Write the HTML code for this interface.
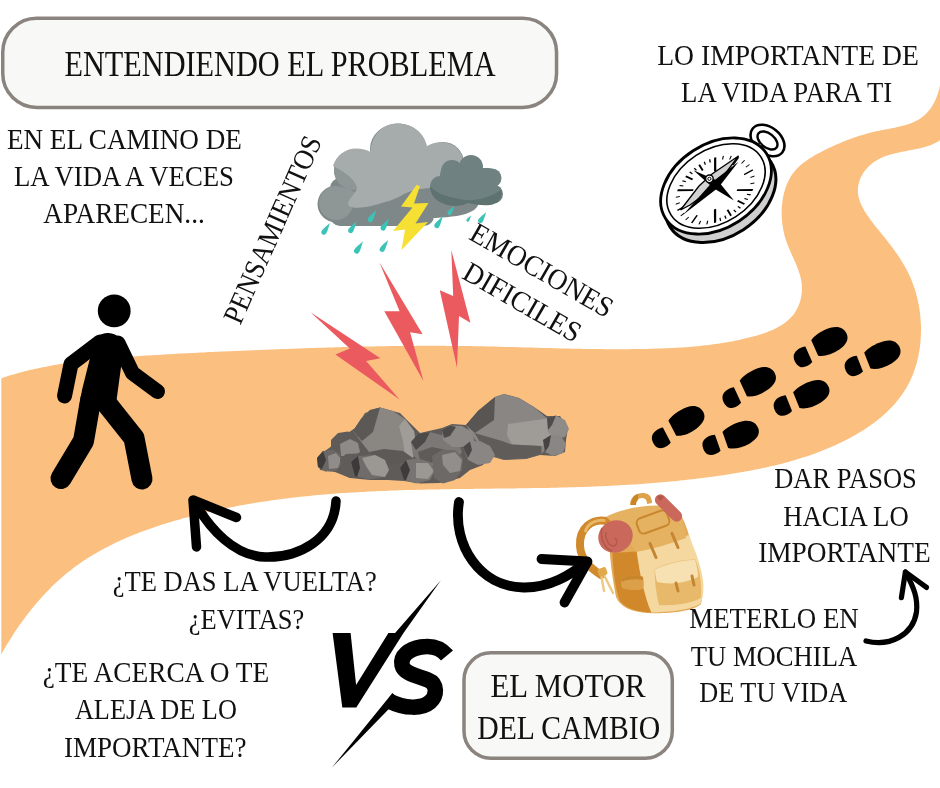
<!DOCTYPE html>
<html><head><meta charset="utf-8"><style>
html,body{margin:0;padding:0;background:#fff;}
svg{display:block;will-change:transform;}
text{font-family:"Liberation Serif",serif;fill:#111;}
</style></head><body>
<svg width="940" height="788" viewBox="0 0 940 788">
<rect width="940" height="788" fill="#fff"/>
<!-- road -->
<path id="road" d="M-4.9,380.4 L-2.1,379.4 L0.8,378.4 L3.6,377.4 L6.5,376.5 L9.4,375.6 L12.3,374.8 L15.2,373.9 L18.1,373.1 L21.0,372.3 L23.9,371.6 L26.8,370.8 L29.7,370.1 L32.6,369.4 L35.5,368.8 L38.5,368.2 L41.4,367.5 L44.4,366.9 L47.3,366.4 L50.3,365.8 L53.2,365.3 L56.2,364.8 L59.2,364.3 L62.1,363.8 L65.1,363.4 L68.1,362.9 L71.0,362.5 L74.0,362.1 L77.0,361.7 L80.0,361.3 L83.0,361.0 L86.0,360.6 L89.0,360.3 L92.0,360.0 L95.0,359.6 L98.0,359.3 L101.0,359.1 L104.0,358.8 L107.0,358.5 L110.0,358.2 L113.0,358.0 L116.0,357.8 L119.1,357.5 L122.1,357.3 L125.1,357.1 L128.1,356.8 L131.1,356.6 L134.1,356.4 L137.1,356.2 L140.2,356.0 L143.2,355.8 L146.2,355.6 L149.2,355.4 L152.2,355.2 L155.2,355.0 L158.2,354.9 L161.3,354.7 L164.3,354.5 L167.3,354.3 L170.3,354.2 L173.3,354.0 L176.3,353.8 L179.3,353.6 L182.4,353.5 L185.4,353.3 L188.4,353.2 L191.4,353.0 L194.4,352.9 L197.4,352.7 L200.4,352.6 L203.4,352.4 L206.5,352.3 L209.5,352.1 L212.5,352.0 L215.5,351.8 L218.5,351.7 L221.5,351.6 L224.5,351.4 L227.5,351.3 L230.5,351.2 L233.6,351.0 L236.6,350.9 L239.6,350.8 L242.6,350.7 L245.6,350.5 L248.6,350.4 L251.6,350.3 L254.6,350.2 L257.6,350.0 L260.6,349.9 L263.7,349.8 L266.7,349.7 L269.7,349.6 L272.7,349.4 L275.7,349.3 L278.7,349.2 L281.7,349.1 L284.7,349.0 L287.7,348.9 L290.7,348.8 L293.7,348.7 L296.7,348.6 L299.7,348.5 L302.8,348.3 L305.8,348.2 L308.8,348.1 L311.8,348.0 L314.8,347.9 L317.8,347.8 L320.8,347.7 L323.8,347.7 L326.8,347.6 L329.8,347.5 L332.8,347.4 L335.8,347.3 L338.8,347.2 L341.8,347.1 L344.9,347.0 L347.9,347.0 L350.9,346.9 L353.9,346.8 L356.9,346.7 L359.9,346.7 L362.9,346.6 L365.9,346.5 L368.9,346.5 L371.9,346.4 L374.9,346.4 L378.0,346.3 L381.0,346.3 L384.0,346.2 L387.0,346.2 L390.0,346.1 L393.0,346.1 L396.0,346.0 L399.0,346.0 L402.0,346.0 L405.1,345.9 L408.1,345.9 L411.1,345.9 L414.1,345.9 L417.1,345.8 L420.1,345.8 L423.1,345.8 L426.2,345.8 L429.2,345.8 L432.2,345.8 L435.2,345.8 L438.2,345.8 L441.2,345.8 L444.3,345.8 L447.3,345.9 L450.3,345.9 L453.3,345.9 L456.3,345.9 L459.4,346.0 L462.4,346.0 L465.4,346.0 L468.4,346.1 L471.5,346.1 L474.5,346.2 L477.5,346.2 L480.5,346.3 L483.6,346.3 L486.6,346.4 L489.6,346.5 L492.7,346.6 L495.7,346.6 L498.7,346.7 L501.7,346.8 L504.8,346.9 L507.8,346.9 L510.8,347.0 L513.9,347.1 L516.9,347.2 L519.9,347.3 L522.9,347.4 L526.0,347.4 L529.0,347.5 L532.0,347.6 L535.1,347.7 L538.1,347.8 L541.1,347.9 L544.2,348.0 L547.2,348.0 L550.2,348.1 L553.2,348.2 L556.3,348.3 L559.3,348.4 L562.3,348.4 L565.3,348.5 L568.4,348.6 L571.4,348.7 L574.4,348.7 L577.4,348.8 L580.4,348.8 L583.5,348.9 L586.5,348.9 L589.5,349.0 L592.5,349.0 L595.5,349.1 L598.5,349.1 L601.5,349.1 L604.6,349.2 L607.6,349.2 L610.6,349.2 L613.6,349.2 L616.6,349.2 L619.6,349.2 L622.6,349.2 L625.6,349.2 L628.6,349.2 L631.6,349.1 L634.6,349.1 L637.6,349.0 L640.6,349.0 L643.6,348.9 L646.6,348.9 L649.5,348.8 L652.5,348.7 L655.5,348.6 L658.5,348.5 L661.5,348.4 L664.4,348.3 L667.4,348.2 L670.4,348.0 L673.4,347.9 L676.3,347.7 L679.3,347.5 L682.3,347.4 L685.2,347.2 L688.2,346.9 L691.2,346.7 L694.1,346.5 L697.1,346.2 L700.1,345.9 L703.0,345.6 L706.0,345.3 L709.0,344.9 L711.9,344.5 L714.9,344.1 L717.9,343.7 L720.9,343.3 L723.9,342.8 L726.9,342.3 L729.9,341.7 L732.9,341.2 L735.9,340.6 L738.9,339.9 L741.9,339.3 L744.9,338.5 L748.0,337.8 L751.0,337.0 L754.0,336.2 L757.1,335.4 L760.1,334.4 L763.1,333.5 L766.1,332.4 L769.0,331.3 L771.8,330.2 L774.6,328.9 L777.3,327.5 L780.0,326.1 L782.5,324.5 L784.9,322.8 L787.2,321.0 L789.3,319.1 L791.3,317.1 L793.2,314.9 L794.9,312.6 L796.4,310.1 L797.7,307.5 L798.9,304.8 L799.9,302.0 L800.7,299.2 L801.3,296.3 L801.7,293.3 L801.9,290.3 L801.9,287.3 L801.8,284.4 L801.4,281.4 L800.8,278.5 L800.1,275.6 L799.2,272.7 L798.2,269.8 L797.1,266.9 L796.0,264.1 L794.7,261.2 L793.5,258.4 L792.2,255.6 L790.9,252.8 L789.7,249.9 L788.5,247.1 L787.4,244.3 L786.4,241.4 L785.4,238.6 L784.6,235.7 L783.9,232.8 L783.3,229.9 L782.8,227.0 L782.3,224.1 L782.0,221.1 L781.8,218.1 L781.7,215.2 L781.6,212.1 L781.7,209.1 L781.9,206.0 L782.2,203.0 L782.6,199.9 L783.1,196.9 L783.8,193.9 L784.6,190.9 L785.5,188.0 L786.5,185.1 L787.7,182.4 L789.0,179.7 L790.5,177.1 L792.1,174.6 L793.8,172.2 L795.7,169.9 L797.8,167.8 L799.9,165.7 L802.2,163.8 L804.6,161.9 L807.0,160.2 L809.5,158.5 L812.1,156.9 L814.8,155.3 L817.4,153.8 L820.2,152.4 L822.9,151.0 L825.6,149.6 L828.3,148.3 L831.0,147.0 L833.8,145.8 L836.5,144.5 L839.2,143.4 L841.9,142.2 L844.7,141.1 L847.4,140.0 L850.2,139.0 L853.0,138.0 L855.8,137.0 L858.6,136.1 L861.5,135.2 L864.3,134.4 L867.2,133.6 L870.2,132.8 L873.1,132.0 L876.1,131.3 L879.1,130.7 L882.2,130.1 L885.3,129.5 L888.4,128.9 L891.5,128.3 L894.6,127.7 L897.6,127.0 L900.7,126.3 L903.7,125.5 L906.6,124.7 L909.5,123.8 L912.3,122.7 L914.9,121.5 L917.5,120.2 L920.0,118.7 L922.3,117.0 L924.5,115.2 L926.5,113.2 L928.5,111.1 L930.3,108.8 L931.9,106.5 L933.4,103.9 L934.8,101.3 L936.0,98.6 L937.1,95.7 L938.1,92.8 L939.0,89.9 L939.7,86.8 L940.3,83.8 L940.9,80.7 L941.5,77.7 L942.1,74.7 L942.7,71.8 L944.2,136.8 L942.2,138.6 L940.0,140.3 L937.7,141.8 L935.2,143.1 L932.6,144.3 L929.9,145.4 L927.0,146.3 L924.1,147.2 L921.1,147.9 L918.0,148.7 L914.9,149.3 L911.7,149.9 L908.5,150.6 L905.3,151.2 L902.1,151.8 L898.9,152.5 L895.8,153.2 L892.6,154.0 L889.6,154.8 L886.6,155.8 L883.7,156.8 L880.9,158.0 L878.2,159.4 L875.6,160.9 L873.2,162.6 L870.9,164.4 L868.8,166.3 L866.8,168.4 L865.0,170.6 L863.4,172.8 L862.0,175.2 L860.7,177.6 L859.7,180.2 L858.9,182.7 L858.3,185.3 L858.0,188.0 L857.9,190.6 L858.0,193.3 L858.4,195.9 L859.0,198.6 L859.9,201.3 L860.9,203.9 L862.2,206.6 L863.6,209.2 L865.1,211.9 L866.8,214.5 L868.6,217.1 L870.4,219.7 L872.4,222.3 L874.4,224.9 L876.4,227.4 L878.5,230.0 L880.5,232.5 L882.6,235.0 L884.6,237.5 L886.6,240.0 L888.5,242.4 L890.4,244.9 L892.2,247.3 L894.0,249.7 L895.7,252.2 L897.4,254.6 L899.1,257.1 L900.7,259.5 L902.2,262.0 L903.7,264.5 L905.1,267.0 L906.5,269.5 L907.8,272.1 L909.1,274.7 L910.3,277.3 L911.5,280.0 L912.5,282.7 L913.5,285.5 L914.5,288.3 L915.4,291.1 L916.2,294.0 L917.0,296.9 L917.7,299.8 L918.3,302.8 L918.9,305.8 L919.4,308.8 L919.8,311.8 L920.2,314.8 L920.5,317.9 L920.7,321.0 L920.9,324.0 L921.0,327.1 L921.0,330.2 L920.9,333.3 L920.8,336.3 L920.6,339.4 L920.4,342.4 L920.1,345.5 L919.7,348.5 L919.2,351.5 L918.6,354.5 L918.0,357.5 L917.3,360.5 L916.6,363.4 L915.7,366.3 L914.8,369.1 L913.8,371.9 L912.8,374.7 L911.6,377.5 L910.4,380.2 L909.1,382.8 L907.7,385.4 L906.3,388.0 L904.7,390.5 L903.1,392.9 L901.5,395.3 L899.7,397.7 L897.9,400.0 L896.1,402.3 L894.2,404.5 L892.2,406.7 L890.1,408.8 L888.0,410.9 L885.9,412.9 L883.7,414.9 L881.4,416.9 L879.1,418.8 L876.8,420.7 L874.4,422.5 L872.0,424.3 L869.5,426.0 L867.0,427.7 L864.5,429.4 L861.9,431.1 L859.3,432.6 L856.7,434.2 L854.0,435.7 L851.3,437.2 L848.6,438.7 L845.9,440.1 L843.2,441.4 L840.4,442.8 L837.6,444.1 L834.9,445.4 L832.1,446.6 L829.2,447.8 L826.4,449.0 L823.6,450.1 L820.8,451.2 L818.0,452.3 L815.1,453.4 L812.3,454.4 L809.4,455.4 L806.6,456.4 L803.7,457.3 L800.8,458.2 L797.9,459.1 L795.1,460.0 L792.2,460.8 L789.3,461.7 L786.4,462.4 L783.5,463.2 L780.6,464.0 L777.7,464.7 L774.7,465.4 L771.8,466.1 L768.9,466.8 L766.0,467.4 L763.0,468.0 L760.1,468.7 L757.2,469.3 L754.2,469.8 L751.3,470.4 L748.3,471.0 L745.4,471.5 L742.4,472.0 L739.5,472.5 L736.5,473.0 L733.6,473.5 L730.6,474.0 L727.6,474.5 L724.7,474.9 L721.7,475.4 L718.8,475.8 L715.8,476.2 L712.8,476.7 L709.8,477.1 L706.9,477.5 L703.9,477.8 L700.9,478.2 L698.0,478.6 L695.0,478.9 L692.0,479.3 L689.0,479.6 L686.0,480.0 L683.0,480.3 L680.1,480.6 L677.1,480.9 L674.1,481.2 L671.1,481.5 L668.1,481.8 L665.1,482.0 L662.1,482.3 L659.1,482.6 L656.1,482.8 L653.1,483.1 L650.2,483.3 L647.2,483.5 L644.2,483.7 L641.2,484.0 L638.2,484.2 L635.2,484.4 L632.2,484.6 L629.1,484.7 L626.1,484.9 L623.1,485.1 L620.1,485.3 L617.1,485.4 L614.1,485.6 L611.1,485.7 L608.1,485.9 L605.1,486.0 L602.1,486.2 L599.1,486.3 L596.1,486.4 L593.0,486.5 L590.0,486.7 L587.0,486.8 L584.0,486.9 L581.0,487.0 L578.0,487.1 L575.0,487.2 L571.9,487.3 L568.9,487.3 L565.9,487.4 L562.9,487.5 L559.9,487.6 L556.8,487.7 L553.8,487.7 L550.8,487.8 L547.8,487.9 L544.8,487.9 L541.7,488.0 L538.7,488.0 L535.7,488.1 L532.7,488.1 L529.6,488.2 L526.6,488.2 L523.6,488.3 L520.6,488.3 L517.6,488.3 L514.5,488.4 L511.5,488.4 L508.5,488.5 L505.5,488.5 L502.4,488.5 L499.4,488.6 L496.4,488.6 L493.4,488.6 L490.3,488.7 L487.3,488.7 L484.3,488.7 L481.3,488.8 L478.2,488.8 L475.2,488.8 L472.2,488.9 L469.2,488.9 L466.1,489.0 L463.1,489.0 L460.1,489.0 L457.1,489.1 L454.1,489.1 L451.0,489.2 L448.0,489.2 L445.0,489.3 L442.0,489.3 L438.9,489.4 L435.9,489.4 L432.9,489.5 L429.9,489.5 L426.9,489.6 L423.8,489.7 L420.8,489.7 L417.8,489.8 L414.8,489.9 L411.8,490.0 L408.8,490.0 L405.7,490.1 L402.7,490.2 L399.7,490.3 L396.7,490.4 L393.7,490.5 L390.7,490.6 L387.7,490.8 L384.6,490.9 L381.6,491.0 L378.6,491.1 L375.6,491.3 L372.6,491.4 L369.6,491.5 L366.6,491.7 L363.6,491.9 L360.6,492.0 L357.6,492.2 L354.6,492.4 L351.6,492.5 L348.6,492.7 L345.6,492.9 L342.6,493.1 L339.6,493.3 L336.6,493.6 L333.6,493.8 L330.6,494.0 L327.6,494.3 L324.6,494.5 L321.6,494.8 L318.6,495.0 L315.6,495.3 L312.6,495.6 L309.7,495.9 L306.7,496.2 L303.7,496.5 L300.7,496.8 L297.7,497.1 L294.7,497.5 L291.8,497.8 L288.8,498.2 L285.8,498.5 L282.8,498.9 L279.9,499.3 L276.9,499.7 L273.9,500.1 L270.9,500.5 L268.0,500.9 L265.0,501.4 L262.0,501.8 L259.1,502.3 L256.1,502.7 L253.2,503.2 L250.2,503.7 L247.2,504.2 L244.3,504.7 L241.3,505.3 L238.4,505.8 L235.4,506.4 L232.5,506.9 L229.5,507.5 L226.6,508.1 L223.6,508.7 L220.7,509.3 L217.8,509.9 L214.8,510.6 L211.9,511.2 L209.0,511.9 L206.0,512.6 L203.1,513.3 L200.2,514.0 L197.2,514.7 L194.3,515.5 L191.4,516.2 L188.5,517.0 L185.6,517.8 L182.6,518.6 L179.7,519.4 L176.8,520.2 L173.9,521.1 L171.0,521.9 L168.1,522.8 L165.2,523.7 L162.3,524.6 L159.4,525.5 L156.5,526.5 L153.7,527.5 L150.8,528.4 L147.9,529.5 L145.1,530.5 L142.2,531.5 L139.4,532.6 L136.6,533.7 L133.8,534.8 L131.0,536.0 L128.2,537.1 L125.4,538.3 L122.7,539.5 L119.9,540.8 L117.2,542.1 L114.5,543.3 L111.8,544.7 L109.1,546.0 L106.4,547.4 L103.7,548.8 L101.1,550.2 L98.5,551.7 L95.9,553.2 L93.3,554.7 L90.8,556.3 L88.2,557.8 L85.7,559.5 L83.2,561.1 L80.7,562.8 L78.3,564.5 L75.8,566.3 L73.4,568.0 L71.1,569.9 L68.7,571.7 L66.4,573.6 L64.1,575.5 L61.8,577.5 L59.5,579.5 L57.3,581.5 L55.1,583.5 L52.9,585.6 L50.8,587.7 L48.7,589.9 L46.6,592.0 L44.5,594.2 L42.4,596.5 L40.4,598.7 L38.4,601.0 L36.4,603.3 L34.5,605.6 L32.5,607.9 L30.6,610.3 L28.8,612.7 L26.9,615.1 L25.1,617.5 L23.3,619.9 L21.5,622.4 L19.7,624.8 L18.0,627.3 L16.3,629.8 L14.6,632.3 L13.0,634.9 L11.4,637.4 L9.8,639.9 L8.2,642.5 L6.6,645.1 L5.1,647.6 L3.6,650.2 L2.1,652.8 L0.7,655.4 L-0.8,658.0 L-2.2,660.6 L-3.6,663.2 L-4.9,665.8 Z" fill="#FBC080"/>
<rect x="0" y="360" width="1.3" height="310" fill="#fff"/>


<!-- cloud -->
<g>
<g fill="#7f8888">
<circle cx="336" cy="204" r="18.5"/>
<circle cx="354" cy="170" r="20"/>
<ellipse cx="398" cy="149" rx="28" ry="25.5"/>
<circle cx="443" cy="163" r="21"/>
<rect x="330" y="178" width="104" height="48" rx="10"/>
<path d="M420,176 L476,180 C483,190 482,204 474,210 C465,216 450,217 436,218 L420,218 Z"/>
</g>
<g fill="#8e9696">
<circle cx="354" cy="170" r="20"/>
<circle cx="336" cy="203" r="17"/>
<path d="M334,188 C345,186 356,190 358,198 L350,206 C340,207 333,200 334,188 Z"/>
</g>
<path fill="#a6acab" d="M333,166 C336,156 345,148.5 356,148.5 C362,148.5 367,150 370.5,152 C371,136 382,123.5 397.5,123.5 C413,123.5 424,133 427,146 C436,140 451,141 458,149 C465,157 465,169 459,177 C450,185 438,187 429,188 C418,189 410,191 404,194 C395,200 385,202 375,205 C365,208 352,209 349,206 C345,201 356,194 357,188 C355,179 345,172 333,166 Z"/>
<g fill="#6f8181">
<circle cx="471" cy="167" r="12"/>
<circle cx="492" cy="178" r="9.5"/>
<circle cx="493.5" cy="194" r="9.5"/>
<circle cx="452" cy="171" r="11"/>
<circle cx="440" cy="186" r="10"/>
<rect x="440" y="168" width="55" height="33" rx="6"/>
</g>
<path fill="#5f7272" d="M430,186 C436,194 450,198 466,200 C480,201 492,196 501,190 C503,198 498,204 490,205 C482,206 474,204 468,203 C460,207 450,207 442,203 C434,200 430,193 430,186 Z"/>
<defs><path id="drop" d="M0,-11 C1,-7 2.6,-3 2.6,0 C2.6,1.6 1.4,2.6 0,2.6 C-1.4,2.6 -2.6,1.6 -2.6,0 C-2.6,-3 -1,-7 0,-11 Z"/></defs>
<g fill="#3cc3b8">
<use href="#drop" transform="translate(323.9,232.2) rotate(33) scale(1)"/>
<use href="#drop" transform="translate(350.7,230.5) rotate(33) scale(1)"/>
<use href="#drop" transform="translate(370.3,219.5) rotate(33) scale(1)"/>
<use href="#drop" transform="translate(383.1,228) rotate(33) scale(1)"/>
<use href="#drop" transform="translate(356.7,251) rotate(33) scale(1.05)"/>
<use href="#drop" transform="translate(382.2,249.3) rotate(33) scale(1)"/>
<use href="#drop" transform="translate(436.9,225.5) rotate(33) scale(1)"/>
<use href="#drop" transform="translate(449.6,212.9) rotate(33) scale(0.8)"/>
<use href="#drop" transform="translate(467.8,220.3) rotate(33) scale(0.55)"/>
<use href="#drop" transform="translate(480.5,220.7) rotate(33) scale(0.95)"/>
</g>
<polygon points="416.5,185 401,206.5 412.5,207.5 393,231 405,229.5 401.5,250 428,222 415.5,223.5 428.5,203 414,203.5 420,186" fill="#f7e034"/>
</g>
<!-- red bolts -->
<g fill="#ea5a5f">
<polygon points="310.5,312.2 349.8,348.6 335.4,354.4 399.6,399.4 366.1,361.1 380.4,358.2"/>
<polygon points="379.5,262.4 399.6,311.3 384.3,311.3 423.5,381.2 410.1,332.3 422.6,334.3"/>
<polygon points="451.3,250 453.2,296 439.8,290.2 457,367.8 459,316 470.4,322.8"/>
</g>

<!-- rocks -->
<g stroke-linejoin="round">
<polygon points="318,462 325,451 333,445 345,435 355,428 365,413 380,407.5 400,413 412,425 420,433 442,428 452,424 466,425 478,411 495,397 504,394 519,398 534,407 547,416 560,416 568,428 566,440 565,452 555,456 540,455 526,459 504,460 490,456 483,465 470,470 460,478 440,483 420,483.5 404,481 388,480 370,480 350,478 335,472 320,470" fill="#5e5b59"/>
<!-- rock A big left -->
<polygon points="353,431 361,419 370,410 380,407.5 393,411 405,419 414,431 416,444 413,458 399,465 384,465 369,452" fill="#8a8682"/>
<polygon points="353,431 361,419 370,410 380,407.5 377,418 373,432 362,441" fill="#5b5856"/>
<polygon points="405,419 414,431 416,444 413,458 405,456 403,441 399,426" fill="#a09c98"/>
<polygon points="369,452 384,465 399,465 413,458 403,451 384,449" fill="#5c5957"/>
<!-- rock B big right -->
<polygon points="466,425 478,411 495,397 504,394 519,398 534,407 547,418.5 552,430 551,443 541.5,454 526.6,458.5 504,459.5 487.5,454 474.5,439" fill="#8a8683"/>
<polygon points="466,425 478,411 495,397 494,420 475,433" fill="#585553"/>
<polygon points="508,424 547,418.5 552,430 551,443 541,446 512,444.6 507,435" fill="#9f9b97"/>
<polygon points="474.5,433 502,441 512,444.6 541.5,446 541.5,454 526.6,458.5 504,459.5 487.5,454" fill="#5f5c5a"/>
<!-- small right -->
<polygon points="547,418 556,415.5 565,420 569,429 565,437 555,439 548,432" fill="#8f8b88"/>
<polygon points="547,418 556,415.5 552,425 548,430" fill="#4e4b4a"/>
<polygon points="543,440 551,435 561,436 566,444 563,453 553,456 545,452" fill="#8a8683"/>
<polygon points="543,440 551,435 549,446 545,452" fill="#464443"/>
<!-- left cluster -->
<polygon points="331,440 338,433 348,431.5 357,436 360,446 356,455 345,458 336,455 331,448" fill="#5e5b59"/>
<polygon points="340,444 350,439 358,443 360,452 352,457 341,456" fill="#8e8a87"/>
<polygon points="317,458 323,451 333,449.5 340,454 342,464 336,471 325,471.5 318,467" fill="#6a6765"/>
<polygon points="317,458 323,451 326,460 322,469 318,467" fill="#3f3d3c"/>
<polygon points="328,456 336,453 341,459 338,468 329,469" fill="#8f8c89"/>
<polygon points="340,459 346,454 357,453.5 366,456 368,466 362,476 350,478 342,474" fill="#5f5c5a"/>
<polygon points="351,462 358,456 375,455 385,460 389,470 385,477 369,479.5 355,476" fill="#6f6c6a"/>
<polygon points="362,458 375,455 385,460 389,470 385,477 372,475 366,466" fill="#9b9793"/>
<polygon points="351,462 358,456 360,468 357,477 355,476" fill="#3c3a39"/>
<!-- middle cluster -->
<polygon points="411,442 418,434 430,432 445,436 458,442 462,452 455,462 440,467 423,465 413,455" fill="#7b7875"/>
<polygon points="411,442 418,434 430,432 425,442 416,450" fill="#4c4a49"/>
<polygon points="418,452 432,447 446,450 444,460 430,463 420,460" fill="#5e5b59"/>
<polygon points="442,430 450,425.5 462,426 472,432 474.5,442 468,447 452,447 443,440" fill="#8c8885"/>
<polygon points="442,430 450,425.5 456,427 450,436 444,438" fill="#4d4b4a"/>
<polygon points="463,447 470,441.5 480,441 490,446 495,455 490,463 478,465 468,460" fill="#8a8683"/>
<polygon points="463,447 470,441.5 472,450 468,458" fill="#4b4948"/>
<polygon points="400,468 406,460 418,458.5 430,462 435,471 430,480 416,483.5 404,480" fill="#777471"/>
<polygon points="400,468 406,460 410,470 406,480 404,480" fill="#3e3c3b"/>
<polygon points="416,463 428,463 434,471 428,479 416,478" fill="#9b9793"/>
<polygon points="432,456 442,450 455,450 463,458 462,470 455,480 443,483.5 434,478" fill="#6c6967"/>
<polygon points="442,455 455,452 462,460 460,471 450,473 443,465" fill="#928e8b"/>
</g>

<!-- compass -->
<g>
<!-- ring -->
<g transform="translate(767.5,140.5) rotate(39)">
<ellipse rx="19" ry="13.2" fill="#fff" stroke="#000" stroke-width="2.6"/>
<ellipse rx="11.5" ry="7" fill="#fff" stroke="#000" stroke-width="2.4"/>
</g>
<polygon points="754,147 760,143 764,149 758,153" fill="#fff" stroke="#000" stroke-width="1"/>
<!-- side band -->
<g transform="translate(720.5,194.5) rotate(-33)">
<ellipse rx="60" ry="42" fill="#cfcfcf" stroke="#000" stroke-width="3"/>
</g>
<g transform="translate(716,186) rotate(-33)">
<ellipse rx="60" ry="42" fill="#fff" stroke="#000" stroke-width="2.8"/>
<ellipse rx="53.5" ry="36.5" fill="#fff" stroke="#000" stroke-width="1.6"/>
<g transform="translate(-3,3) scale(1,0.7)" stroke="#000">
<line x1="10.4" y1="-22.7" x2="17.8" y2="-39.1" stroke-width="2.4"/>
<line x1="22.9" y1="-30.9" x2="25.6" y2="-34.6" stroke-width="1.3"/>
<line x1="28.9" y1="-25.5" x2="32.2" y2="-28.5" stroke-width="1.3"/>
<line x1="28.8" y1="-16.2" x2="37.5" y2="-21.1" stroke-width="1.9"/>
<line x1="36.7" y1="-11.5" x2="41.0" y2="-12.8" stroke-width="1.3"/>
<line x1="38.3" y1="-3.6" x2="42.8" y2="-4.0" stroke-width="1.3"/>
<line x1="32.8" y1="3.9" x2="42.7" y2="5.0" stroke-width="1.9"/>
<line x1="36.5" y1="12.4" x2="40.7" y2="13.8" stroke-width="1.3"/>
<line x1="33.1" y1="19.7" x2="36.9" y2="22.0" stroke-width="1.3"/>
<line x1="18.3" y1="17.0" x2="31.6" y2="29.2" stroke-width="2.4"/>
<line x1="24.4" y1="29.8" x2="27.2" y2="33.3" stroke-width="1.3"/>
<line x1="20.0" y1="32.9" x2="22.3" y2="36.8" stroke-width="1.3"/>
<line x1="13.1" y1="30.3" x2="17.0" y2="39.5" stroke-width="1.9"/>
<line x1="10.2" y1="37.1" x2="11.4" y2="41.5" stroke-width="1.3"/>
<line x1="4.9" y1="38.2" x2="5.5" y2="42.6" stroke-width="1.3"/>
<line x1="-0.3" y1="33.0" x2="-0.5" y2="43.0" stroke-width="1.9"/>
<line x1="-5.7" y1="38.1" x2="-6.4" y2="42.5" stroke-width="1.3"/>
<line x1="-11.0" y1="36.9" x2="-12.2" y2="41.2" stroke-width="1.3"/>
<line x1="-10.4" y1="22.7" x2="-17.8" y2="39.1" stroke-width="2.4"/>
<line x1="-22.9" y1="30.9" x2="-25.6" y2="34.6" stroke-width="1.3"/>
<line x1="-28.9" y1="25.5" x2="-32.2" y2="28.5" stroke-width="1.3"/>
<line x1="-28.8" y1="16.2" x2="-37.5" y2="21.1" stroke-width="1.9"/>
<line x1="-36.7" y1="11.5" x2="-41.0" y2="12.8" stroke-width="1.3"/>
<line x1="-38.3" y1="3.6" x2="-42.8" y2="4.0" stroke-width="1.3"/>
<line x1="-32.8" y1="-3.9" x2="-42.7" y2="-5.0" stroke-width="1.9"/>
<line x1="-36.5" y1="-12.4" x2="-40.7" y2="-13.8" stroke-width="1.3"/>
<line x1="-33.1" y1="-19.7" x2="-36.9" y2="-22.0" stroke-width="1.3"/>
<line x1="-18.3" y1="-17.0" x2="-31.6" y2="-29.2" stroke-width="2.4"/>
<line x1="-24.4" y1="-29.8" x2="-27.2" y2="-33.3" stroke-width="1.3"/>
<line x1="-20.0" y1="-32.9" x2="-22.3" y2="-36.8" stroke-width="1.3"/>
<line x1="-13.1" y1="-30.3" x2="-17.0" y2="-39.5" stroke-width="1.9"/>
<line x1="-10.2" y1="-37.1" x2="-11.4" y2="-41.5" stroke-width="1.3"/>
<line x1="-4.9" y1="-38.2" x2="-5.5" y2="-42.6" stroke-width="1.3"/>
<line x1="0.3" y1="-33.0" x2="0.5" y2="-43.0" stroke-width="1.9"/>
<line x1="5.7" y1="-38.1" x2="6.4" y2="-42.5" stroke-width="1.3"/>
<line x1="11.0" y1="-36.9" x2="12.2" y2="-41.2" stroke-width="1.3"/>
</g>
</g>
<!-- needles -->
<polygon points="738.5,156 712,174 699,186 680.5,210 690,205 716,186" fill="#d2d2d2" stroke="#000" stroke-width="1.3"/>
<polygon points="738.5,161.7 718.5,187.5 683.1,214.8 712.9,181.5" fill="#000"/>
<polygon points="693.4,170.3 713.3,188.1 734,200.5 718.1,180.9" fill="#000"/>
<circle cx="709.4" cy="178.8" r="3.8" fill="#fff" stroke="#000" stroke-width="1.4"/>
<circle cx="709.4" cy="178.8" r="1.6" fill="none" stroke="#000" stroke-width="1"/>
</g>

<!-- footprints -->
<defs><path id="sole" d="M0,-8.5 C5,-11.5 14,-13 22.5,-12 C30.5,-11 35,-6.5 35,0 C35,6.5 29.5,10 21.5,11.5 C13.5,13 5,12 0,8.5 Z"/><path id="heel" d="M-8,-8.5 L-8,8.5 C-12,10.5 -18,10.5 -21,8 C-24.5,5 -24.5,-3 -21.5,-6 C-18,-9.5 -12,-9.8 -8,-8.5 Z"/></defs>
<g fill="#000">
<g transform="translate(672.3,428.2) rotate(-27.5)"><use href="#sole"/><use href="#heel" transform="translate(0,3.5)"/></g>
<g transform="translate(725.3,440) rotate(-19.4)"><use href="#sole"/><use href="#heel" transform="translate(0,0)"/></g>
<g transform="translate(743.3,388.5) rotate(-25)"><use href="#sole"/><use href="#heel" transform="translate(0,3.5)"/></g>
<g transform="translate(796.3,400.2) rotate(-22)"><use href="#sole"/><use href="#heel" transform="translate(0,0)"/></g>
<g transform="translate(814.7,347.9) rotate(-24)"><use href="#sole"/><use href="#heel" transform="translate(0,3.5)"/></g>
<g transform="translate(867.3,360.7) rotate(-21.6)"><use href="#sole"/><use href="#heel" transform="translate(0,0)"/></g>
</g>


<!-- backpack -->
<g>
<path d="M607,521 C592,518 579,528 580,546 C581,561 592,569 601,575" fill="none" stroke="#d08a2c" stroke-width="8" stroke-linecap="round"/>
<path d="M604,520.5 C595,519.5 587.5,524 585.5,531" fill="none" stroke="#e9b866" stroke-width="3" stroke-linecap="round"/>
<path d="M601,574 L604,591 M604,575 L613,593" fill="none" stroke="#eec884" stroke-width="2.4" stroke-linecap="round"/>
<rect x="598" y="568" width="9" height="8" rx="2" fill="#e2a84c" transform="rotate(-20 602 572)"/>
<path d="M630,505 C630,497 636,493 643,493 C649,493 652,497 652,503 L647,504 C647,500 645,498 642,498 C638,498 636,501 636,505 Z" fill="#dea24a"/>
<path d="M631,505 C631,499 634,495 638,494 L638,500 C636,501 636,503 636,505 Z" fill="#c98428"/>
<path d="M609,522 C620,510 652,503 676,508 C686,520 690,537 694,556 C699,575 704,592 701,604 C693,612 664,614 648,613 C632,612 620,607 616,597 C612,577 608,547 609,522 Z" fill="#e3aa57"/>
<path d="M612.5,553 L636.7,551.4 C640,575 645,598 651.4,612.5 C638,612 626,609 620,601 C615,588 613,570 612.5,553 Z" fill="#d0882b"/>
<path d="M636.7,551.4 L688.7,535 C696,552 703,572 703.4,585 C703.5,595 702,602 700,604 C690,610 670,612 651.4,612.5 C645,598 640,575 636.7,551.4 Z" fill="#f4d8a0"/>
<path d="M654.6,569.2 C667,563 684,559 695.2,559.5 C700,570 702,585 701,598 C692,603 675,606 659,605 C656,593 654.5,580 654.6,569.2 Z" fill="#e8b96b"/>
<path d="M655,569.5 C667,563.5 684,559.5 695,560 C697,566 698,572 698,577 C686,583 670,585 657,582 C656,578 655,573 655,569.5 Z" fill="#f7e1b3"/>
<path d="M606,517 C622,508 652,503 674,507 C683,517 686,529 686,538 C670,544 652,549 636,552 C628,538 619,527 606,517 Z" fill="#e5b262"/>
<rect x="637" y="514" width="32" height="16" rx="5" fill="none" stroke="#c98830" stroke-width="2" transform="rotate(-20 653 522)"/>
<rect x="651.5" y="502.5" width="34" height="11" rx="5.5" fill="#c9685b" transform="rotate(45 668.5 508)"/>
<path d="M657,497 C659,495 662,495 664,497 L660,501 Z" fill="#b35648"/>
<ellipse cx="615.5" cy="536.5" rx="17.5" ry="16" fill="#c9685b" transform="rotate(-25 615.5 536.5)"/>
<path d="M602,528 C600,538 604,548 612,551" fill="none" stroke="#b3584b" stroke-width="1.6"/>
<path d="M606,532 C605,539 608,545 613,546 C617,546 618,541 615,538" fill="none" stroke="#b3584b" stroke-width="1.4"/>
<g stroke="#c58531" stroke-width="3" stroke-linecap="round">
<line x1="650" y1="543.5" x2="656" y2="557.5"/>
<line x1="672" y1="533.5" x2="678" y2="547.5"/>
<line x1="676" y1="583" x2="678" y2="591"/>
<line x1="692" y1="576" x2="694" y2="585"/>
</g>
<path d="M621.5,579 C626,575 637,574.5 643,577 C644,582 644,586 643,589 C636,591 627,590 622,588 C621,585 621,582 621.5,579 Z" fill="#dda04a"/>
<path d="M621.5,579 C626,575 637,574.5 643,577 L643,580 C637,578.5 627,579 621.8,582 Z" fill="#c7852c"/>
</g>
<!-- arrows -->
<g fill="none" stroke="#000" stroke-linecap="round" stroke-linejoin="round">
<path d="M336,501 C334,540 298,558 265,557 C235,556 210,530 194,501" stroke-width="9.5"/>
<path d="M236.5,517.5 L193,500 L196.5,547" stroke-width="9.5"/>
<path d="M459,502 C452,545 480,587 523.5,587.5 C550,588 570,575 587,562" stroke-width="9.8"/>
<path d="M541.5,559 L587.5,561.5 L564.5,602.5" stroke-width="9.8"/>
<path d="M866,641 C890,647 913,635 916.5,612 C918,598 914,588 905.5,572" stroke-width="5.2"/>
<path d="M926.5,587.4 L905.4,572 L901.4,597.7" stroke-width="5.2"/>
</g>
<!-- VS -->
<g fill="#000">
<polygon points="332.6,633.1 350.6,633.1 356.1,685 388.4,633.1 395.1,633.1 440.9,580.3 403.5,633.1 356.3,707.6 342.3,707.6"/>
<polygon points="392.4,693.1 398.5,699 332,767.5"/>
<path d="M447,655.5 C440,647 430,645.5 421,647 C409,649 400,656 402,665 C404,674 418,676 428,680 C438,684 437,696 430,702 C422,709 405,709 389,701" fill="none" stroke="#000" stroke-width="15.5"/>
</g>
<!-- walker -->
<g fill="none" stroke="#000" stroke-linecap="round" stroke-linejoin="round">
<path d="M92.5,348 A15.5,15.5 0 0 1 123.5,349 L116,404 L79,408 L82,390 Z" fill="#000" stroke="none"/>
<polyline points="100,342 71,364 64.5,396" stroke-width="15"/>
<polyline points="118,343 132.5,373 157.5,391.5" stroke-width="15"/>
<polyline points="91,398 83.5,441 61,478.5" stroke-width="21"/>
<polyline points="107,404 134,438 142,479" stroke-width="21"/>
</g>
<circle cx="114.2" cy="310.9" r="16.4" fill="#000"/>
<!-- title box -->
<rect x="2.75" y="18.25" width="553.8" height="89.2" rx="34" fill="#f8f8f6" stroke="#8a837e" stroke-width="3.5"/>
<text x="280" y="75.6" font-size="36" text-anchor="middle" textLength="431" lengthAdjust="spacingAndGlyphs">ENTENDIENDO EL PROBLEMA</text>
<!-- motor box -->
<rect x="464" y="652.75" width="208.3" height="105.4" rx="27" fill="#f8f8f6" stroke="#8a837e" stroke-width="3.5"/>
<g font-size="33" text-anchor="middle">
<text x="568" y="696.8" textLength="155" lengthAdjust="spacingAndGlyphs">EL MOTOR</text>
<text x="568.7" y="739.1" textLength="183" lengthAdjust="spacingAndGlyphs">DEL CAMBIO</text>
</g>
<g font-size="29" text-anchor="middle">
<text x="788" y="64.6" textLength="261.5" lengthAdjust="spacingAndGlyphs">LO IMPORTANTE DE</text>
<text x="786.6" y="101.6" textLength="211" lengthAdjust="spacingAndGlyphs">LA VIDA PARA TI</text>
<text x="124.4" y="149" textLength="235" lengthAdjust="spacingAndGlyphs">EN EL CAMINO DE</text>
<text x="124" y="186.3" textLength="220" lengthAdjust="spacingAndGlyphs">LA VIDA A VECES</text>
<text x="124" y="222.7" textLength="161.5" lengthAdjust="spacingAndGlyphs">APARECEN...</text>
<text x="244.7" y="591.3" textLength="264" lengthAdjust="spacingAndGlyphs">¿TE DAS LA VUELTA?</text>
<text x="246.5" y="628.6" textLength="115.5" lengthAdjust="spacingAndGlyphs">¿EVITAS?</text>
<text x="155.9" y="681.8" textLength="226.5" lengthAdjust="spacingAndGlyphs">¿TE ACERCA O TE</text>
<text x="155.9" y="719.2" textLength="162" lengthAdjust="spacingAndGlyphs">ALEJA DE LO</text>
<text x="155.2" y="756.5" textLength="182.5" lengthAdjust="spacingAndGlyphs">IMPORTANTE?</text>
<text x="845.5" y="488" textLength="142.5" lengthAdjust="spacingAndGlyphs">DAR PASOS</text>
<text x="846" y="526" textLength="125.5" lengthAdjust="spacingAndGlyphs">HACIA LO</text>
<text x="844.4" y="562.2" textLength="172.5" lengthAdjust="spacingAndGlyphs">IMPORTANTE</text>
<text x="774" y="628.2" textLength="169.5" lengthAdjust="spacingAndGlyphs">METERLO EN</text>
<text x="774" y="666" textLength="166.5" lengthAdjust="spacingAndGlyphs">TU MOCHILA</text>
<text x="773.2" y="702.4" textLength="148" lengthAdjust="spacingAndGlyphs">DE TU VIDA</text>
<text transform="translate(272.7,229.6) rotate(-66)" y="9.3" textLength="202" lengthAdjust="spacingAndGlyphs">PENSAMIENTOS</text>
<text transform="translate(541.7,270.4) rotate(30)" y="9.3" textLength="160" lengthAdjust="spacingAndGlyphs">EMOCIONES</text>
<text transform="translate(522.2,302.4) rotate(30)" y="9.3" textLength="131" lengthAdjust="spacingAndGlyphs">DIFICILES</text>
</g>
</svg>
</body></html>
